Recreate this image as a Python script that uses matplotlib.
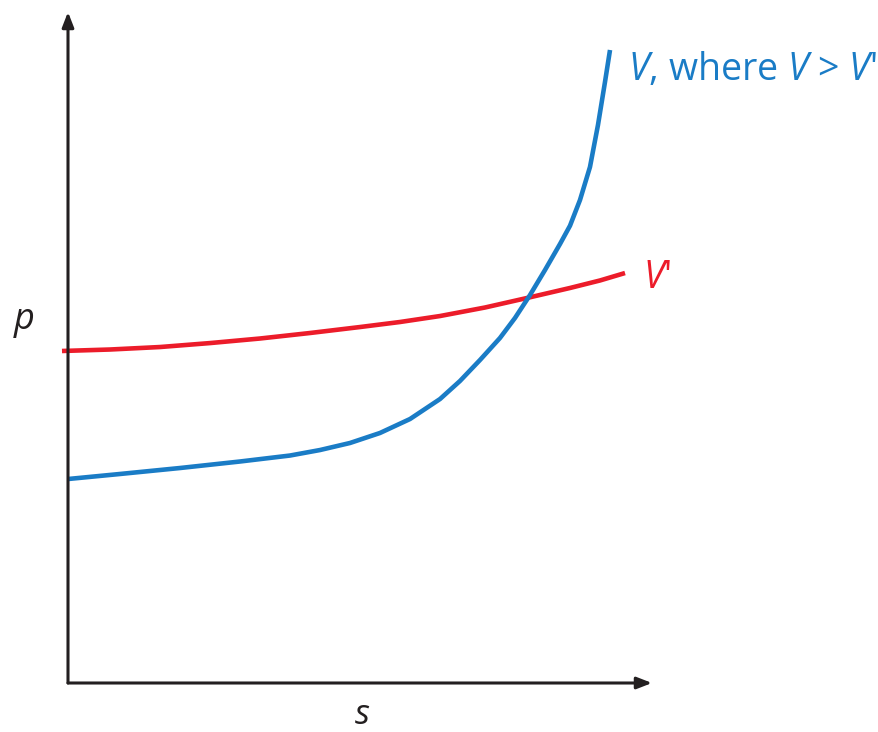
import matplotlib
matplotlib.use("Agg")
import matplotlib.pyplot as plt

# values (arbitrary units, axes run 0..10)
s_v = [0.000, 0.890, 1.918, 2.945, 3.801, 4.315, 4.829, 5.342, 5.856, 6.370,
       6.712, 7.055, 7.397, 7.654, 7.911, 8.168, 8.425, 8.596, 8.767, 8.938,
       9.075, 9.195, 9.281]
p_v = [3.040, 3.115, 3.204, 3.301, 3.390, 3.472, 3.577, 3.726, 3.934, 4.232,
       4.501, 4.814, 5.142, 5.440, 5.782, 6.155, 6.543, 6.815, 7.198, 7.690,
       8.316, 8.957, 9.434]

s_v2 = [-0.103, 0.719, 1.575, 2.432, 3.288, 4.144, 5.000, 5.685, 6.370, 7.140,
        7.860, 8.596, 9.110, 9.538]
p_v2 = [4.948, 4.970, 5.007, 5.066, 5.134, 5.216, 5.305, 5.380, 5.469, 5.596,
        5.738, 5.887, 5.999, 6.110]

blue = '#1a7cc6'
red = '#ec1c2a'
dark = '#231f20'

plt.rcParams['mathtext.fontset'] = 'custom'
plt.rcParams['mathtext.rm'] = 'Open Sans'
plt.rcParams['mathtext.it'] = 'Open Sans:italic'
plt.rcParams['font.family'] = 'Open Sans'

W, H = 879, 732
fig = plt.figure(figsize=(W / 100, H / 100), dpi=100)
ax = fig.add_axes([68 / W, (H - 683) / H, (652 - 68) / W, (683 - 12) / H])
ax.set_xlim(0, 10)
ax.set_ylim(0, 10)
ax.axis('off')

# axes with arrow heads
arrow = dict(arrowstyle='-|>,head_length=0.9,head_width=0.35', color=dark, lw=2.2,
             shrinkA=0, shrinkB=0)
ax.annotate('', xy=(0, 1), xytext=(0, 0), xycoords='axes fraction', arrowprops=arrow)
ax.annotate('', xy=(1, 0), xytext=(0, 0), xycoords='axes fraction', arrowprops=arrow)

ax.plot(s_v2, p_v2, color=red, lw=3.3, clip_on=False, solid_capstyle='butt',
        solid_joinstyle='round')
ax.plot(s_v, p_v, color=blue, lw=3.3, clip_on=False, solid_capstyle='butt',
        solid_joinstyle='round')

ax.text(9.59, 8.99, r"$V$, where $V$ > $V$'", color=blue, fontsize=27,
        ha='left', va='baseline')
ax.text(9.85, 5.89, r"$V$'", color=red, fontsize=27, ha='left', va='baseline')

ax.text(-0.75, 5.38, r"$p$", color=dark, fontsize=26, ha='center', va='center')
ax.text(5.03, -0.47, r"$s$", color=dark, fontsize=25, ha='center', va='center')

fig.savefig('out.png', dpi=100)
